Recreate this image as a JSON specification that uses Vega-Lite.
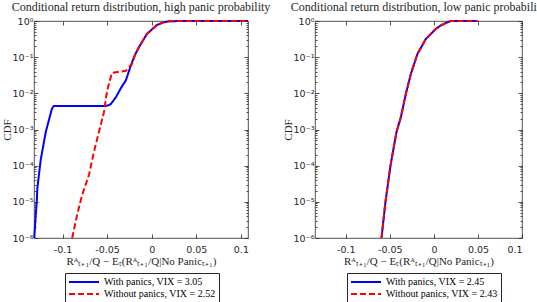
{
  "$schema": "https://vega.github.io/schema/vega-lite/v6.json",
  "padding": {"left": 0, "top": 0, "right": 0, "bottom": 0},
  "background": "white",
  "config": {
    "font": "Liberation Sans",
    "view": {"stroke": "#262626", "strokeWidth": 0.8},
    "axis": {"domain": false, "grid": false, "labelFont": "DejaVu Sans", "labelFontSize": 9.5, "labelColor": "#262626", "tickColor": "#262626", "tickSize": -4, "tickWidth": 0.8, "titleFont": "Liberation Serif", "titleFontSize": 11, "titleFontWeight": "normal", "titleColor": "#262626"},
    "axisY": {"values": [1e-6, 2e-6, 3e-6, 4e-6, 5e-6, 6e-6, 7e-6, 8e-6, 9e-6, 1e-5, 2e-5, 3e-5, 4e-5, 5e-5, 6e-5, 7e-5, 8e-5, 9e-5, 1e-4, 2e-4, 3e-4, 4e-4, 5e-4, 6e-4, 7e-4, 8e-4, 9e-4, 1e-3, 2e-3, 3e-3, 4e-3, 5e-3, 6e-3, 7e-3, 8e-3, 9e-3, 0.01, 0.02, 0.03, 0.04, 0.05, 0.06, 0.07, 0.08, 0.09, 0.1, 0.2, 0.3, 0.4, 0.5, 0.6, 0.7, 0.8, 0.9, 1], "labelOverlap": false, "tickSize": {"condition": {"test": "abs(log(datum.value)/LN10 - round(log(datum.value)/LN10)) < 0.001", "value": -4}, "value": -2}},
    "title": {"font": "Liberation Serif", "fontSize": 12, "fontWeight": "normal", "color": "#262626", "anchor": "middle", "frame": "group", "offset": 2},
    "legend": {"orient": "none", "direction": "vertical", "strokeColor": "#262626", "fillColor": "white", "padding": 3, "labelFont": "Liberation Serif", "labelFontSize": 10, "labelColor": "#000000", "symbolType": "M-1,0H5", "symbolSize": 100, "symbolStrokeWidth": 2, "rowPadding": 1, "labelOffset": 24},
    "line": {"strokeWidth": 2, "clip": true}
  },
  "datasets": {
    "left": [
      {"x": -0.1317, "y": 1e-6, "s": "With panics, VIX = 3.05"},
      {"x": -0.130, "y": 4.4e-6, "s": "With panics, VIX = 3.05"},
      {"x": -0.1289, "y": 1e-5, "s": "With panics, VIX = 3.05"},
      {"x": -0.1283, "y": 2.3e-5, "s": "With panics, VIX = 3.05"},
      {"x": -0.1244, "y": 1.5e-4, "s": "With panics, VIX = 3.05"},
      {"x": -0.1188, "y": 8.5e-4, "s": "With panics, VIX = 3.05"},
      {"x": -0.112, "y": 3.7e-3, "s": "With panics, VIX = 3.05"},
      {"x": -0.1098, "y": 4.5e-3, "s": "With panics, VIX = 3.05"},
      {"x": -0.0513, "y": 4.5e-3, "s": "With panics, VIX = 3.05"},
      {"x": -0.048, "y": 4.7e-3, "s": "With panics, VIX = 3.05"},
      {"x": -0.0457, "y": 5.1e-3, "s": "With panics, VIX = 3.05"},
      {"x": -0.040, "y": 7.9e-3, "s": "With panics, VIX = 3.05"},
      {"x": -0.0345, "y": 0.014, "s": "With panics, VIX = 3.05"},
      {"x": -0.0289, "y": 0.023, "s": "With panics, VIX = 3.05"},
      {"x": -0.0233, "y": 0.060, "s": "With panics, VIX = 3.05"},
      {"x": -0.0188, "y": 0.115, "s": "With panics, VIX = 3.05"},
      {"x": -0.0143, "y": 0.19, "s": "With panics, VIX = 3.05"},
      {"x": -0.0053, "y": 0.44, "s": "With panics, VIX = 3.05"},
      {"x": 0.006, "y": 0.78, "s": "With panics, VIX = 3.05"},
      {"x": 0.0127, "y": 0.91, "s": "With panics, VIX = 3.05"},
      {"x": 0.0194, "y": 0.98, "s": "With panics, VIX = 3.05"},
      {"x": 0.0307, "y": 1.0, "s": "With panics, VIX = 3.05"},
      {"x": 0.108, "y": 1.0, "s": "With panics, VIX = 3.05"},
      {"x": -0.0892, "y": 1e-6, "s": "Without panics, VIX = 2.52"},
      {"x": -0.0836, "y": 4.4e-6, "s": "Without panics, VIX = 2.52"},
      {"x": -0.078, "y": 1.55e-5, "s": "Without panics, VIX = 2.52"},
      {"x": -0.0704, "y": 5.5e-5, "s": "Without panics, VIX = 2.52"},
      {"x": -0.0648, "y": 2.4e-4, "s": "Without panics, VIX = 2.52"},
      {"x": -0.0592, "y": 8.5e-4, "s": "Without panics, VIX = 2.52"},
      {"x": -0.0536, "y": 3.0e-3, "s": "Without panics, VIX = 2.52"},
      {"x": -0.0502, "y": 0.011, "s": "Without panics, VIX = 2.52"},
      {"x": -0.048, "y": 0.018, "s": "Without panics, VIX = 2.52"},
      {"x": -0.0446, "y": 0.037, "s": "Without panics, VIX = 2.52"},
      {"x": -0.0289, "y": 0.042, "s": "Without panics, VIX = 2.52"},
      {"x": -0.022, "y": 0.066, "s": "Without panics, VIX = 2.52"},
      {"x": -0.0188, "y": 0.115, "s": "Without panics, VIX = 2.52"},
      {"x": -0.0143, "y": 0.19, "s": "Without panics, VIX = 2.52"},
      {"x": -0.0053, "y": 0.44, "s": "Without panics, VIX = 2.52"},
      {"x": 0.006, "y": 0.78, "s": "Without panics, VIX = 2.52"},
      {"x": 0.0127, "y": 0.91, "s": "Without panics, VIX = 2.52"},
      {"x": 0.0194, "y": 0.98, "s": "Without panics, VIX = 2.52"},
      {"x": 0.0307, "y": 1.0, "s": "Without panics, VIX = 2.52"},
      {"x": 0.108, "y": 1.0, "s": "Without panics, VIX = 2.52"}
    ],
    "right": [
      {"x": -0.0595, "y": 1e-6, "s": "With panics, VIX = 2.45"},
      {"x": -0.055, "y": 1e-5, "s": "With panics, VIX = 2.45"},
      {"x": -0.0493, "y": 1e-4, "s": "With panics, VIX = 2.45"},
      {"x": -0.0425, "y": 8.5e-4, "s": "With panics, VIX = 2.45"},
      {"x": -0.0375, "y": 2.2e-3, "s": "With panics, VIX = 2.45"},
      {"x": -0.0318, "y": 9.8e-3, "s": "With panics, VIX = 2.45"},
      {"x": -0.0261, "y": 0.035, "s": "With panics, VIX = 2.45"},
      {"x": -0.0186, "y": 0.124, "s": "With panics, VIX = 2.45"},
      {"x": -0.0091, "y": 0.32, "s": "With panics, VIX = 2.45"},
      {"x": 0.0023, "y": 0.61, "s": "With panics, VIX = 2.45"},
      {"x": 0.008, "y": 0.76, "s": "With panics, VIX = 2.45"},
      {"x": 0.0136, "y": 0.88, "s": "With panics, VIX = 2.45"},
      {"x": 0.0193, "y": 1.0, "s": "With panics, VIX = 2.45"},
      {"x": 0.0495, "y": 1.0, "s": "With panics, VIX = 2.45"},
      {"x": -0.0595, "y": 1e-6, "s": "Without panics, VIX = 2.43"},
      {"x": -0.055, "y": 1e-5, "s": "Without panics, VIX = 2.43"},
      {"x": -0.0493, "y": 1e-4, "s": "Without panics, VIX = 2.43"},
      {"x": -0.0425, "y": 8.5e-4, "s": "Without panics, VIX = 2.43"},
      {"x": -0.0375, "y": 2.2e-3, "s": "Without panics, VIX = 2.43"},
      {"x": -0.0318, "y": 9.8e-3, "s": "Without panics, VIX = 2.43"},
      {"x": -0.0261, "y": 0.035, "s": "Without panics, VIX = 2.43"},
      {"x": -0.0186, "y": 0.124, "s": "Without panics, VIX = 2.43"},
      {"x": -0.0091, "y": 0.32, "s": "Without panics, VIX = 2.43"},
      {"x": 0.0023, "y": 0.61, "s": "Without panics, VIX = 2.43"},
      {"x": 0.008, "y": 0.76, "s": "Without panics, VIX = 2.43"},
      {"x": 0.0136, "y": 0.88, "s": "Without panics, VIX = 2.43"},
      {"x": 0.0193, "y": 1.0, "s": "Without panics, VIX = 2.43"},
      {"x": 0.0495, "y": 1.0, "s": "Without panics, VIX = 2.43"}
    ]
  },
  "hconcat": [
    {
      "width": 214,
      "height": 217,
      "title": "Conditional return distribution, high panic probability",
      "data": {"name": "left"},
      "layer": [
        {
          "transform": [{"filter": "datum.s == 'With panics, VIX = 3.05'"}],
          "mark": "line",
          "encoding": {
            "x": {"field": "x", "type": "quantitative", "scale": {"domain": [-0.132, 0.108], "nice": false, "zero": false}, "axis": {"orient": "bottom", "values": [-0.1, -0.05, 0, 0.05, 0.1], "labelExpr": "'' + datum.value", "title": "Rᴬₜ₊₁/Q − Eₜ(Rᴬₜ₊₁/Q|No Panicₜ₊₁)", "titlePadding": 2, "labelPadding": 10}},
            "y": {"field": "y", "type": "quantitative", "scale": {"type": "log", "domain": [1e-6, 1], "nice": false}, "axis": {"orient": "left", "labelExpr": "abs(log(datum.value)/LN10 - round(log(datum.value)/LN10)) < 0.001 ? '10' + ['⁻⁶','⁻⁵','⁻⁴','⁻³','⁻²','⁻¹','⁰'][round(log(datum.value)/LN10)+6] : ''", "title": "CDF", "titlePadding": 0, "labelPadding": 5}},
            "color": {"field": "s", "type": "nominal", "scale": {"domain": ["With panics, VIX = 3.05", "Without panics, VIX = 2.52"], "range": ["#0000ff", "#ff0000"]}, "legend": {"title": null, "orient": "none", "legendX": 31, "legendY": 252}},
            "strokeDash": {"field": "s", "type": "nominal", "scale": {"domain": ["With panics, VIX = 3.05", "Without panics, VIX = 2.52"], "range": [[1, 0], [6, 3]]}, "legend": {"title": null, "orient": "none", "legendX": 31, "legendY": 252}}
          }
        },
        {
          "transform": [{"filter": "datum.s == 'Without panics, VIX = 2.52'"}],
          "mark": "line",
          "encoding": {
            "x": {"field": "x", "type": "quantitative", "scale": {"domain": [-0.132, 0.108], "nice": false, "zero": false}, "axis": {"orient": "top", "values": [-0.1, -0.05, 0, 0.05, 0.1], "labels": false, "title": null}},
            "y": {"field": "y", "type": "quantitative", "scale": {"type": "log", "domain": [1e-6, 1], "nice": false}, "axis": {"orient": "right", "labels": false, "title": null}},
            "color": {"field": "s", "type": "nominal", "scale": {"domain": ["With panics, VIX = 3.05", "Without panics, VIX = 2.52"], "range": ["#0000ff", "#ff0000"]}, "legend": {"title": null, "orient": "none", "legendX": 31, "legendY": 252}},
            "strokeDash": {"field": "s", "type": "nominal", "scale": {"domain": ["With panics, VIX = 3.05", "Without panics, VIX = 2.52"], "range": [[1, 0], [6, 3]]}, "legend": {"title": null, "orient": "none", "legendX": 31, "legendY": 252}}
          }
        }
      ],
      "resolve": {"axis": {"x": "independent", "y": "independent"}}
    },
    {
      "width": 207,
      "height": 217,
      "title": "Conditional return distribution, low panic probability",
      "data": {"name": "right"},
      "layer": [
        {
          "transform": [{"filter": "datum.s == 'With panics, VIX = 2.45'"}],
          "mark": "line",
          "encoding": {
            "x": {"field": "x", "type": "quantitative", "scale": {"domain": [-0.135, 0.1], "nice": false, "zero": false}, "axis": {"orient": "bottom", "values": [-0.1, -0.05, 0, 0.05, 0.1], "labelExpr": "'' + datum.value", "title": "Rᴬₜ₊₁/Q − Eₜ(Rᴬₜ₊₁/Q|No Panicₜ₊₁)", "titlePadding": 2, "labelPadding": 10}},
            "y": {"field": "y", "type": "quantitative", "scale": {"type": "log", "domain": [1e-6, 1], "nice": false}, "axis": {"orient": "left", "labelExpr": "abs(log(datum.value)/LN10 - round(log(datum.value)/LN10)) < 0.001 ? '10' + ['⁻⁶','⁻⁵','⁻⁴','⁻³','⁻²','⁻¹','⁰'][round(log(datum.value)/LN10)+6] : ''", "title": "CDF", "titlePadding": 0, "labelPadding": 5}},
            "color": {"field": "s", "type": "nominal", "scale": {"domain": ["With panics, VIX = 2.45", "Without panics, VIX = 2.43"], "range": ["#0000ff", "#ff0000"]}, "legend": {"title": null, "orient": "none", "legendX": 32, "legendY": 252}},
            "strokeDash": {"field": "s", "type": "nominal", "scale": {"domain": ["With panics, VIX = 2.45", "Without panics, VIX = 2.43"], "range": [[1, 0], [6, 3]]}, "legend": {"title": null, "orient": "none", "legendX": 32, "legendY": 252}}
          }
        },
        {
          "transform": [{"filter": "datum.s == 'Without panics, VIX = 2.43'"}],
          "mark": "line",
          "encoding": {
            "x": {"field": "x", "type": "quantitative", "scale": {"domain": [-0.135, 0.1], "nice": false, "zero": false}, "axis": {"orient": "top", "values": [-0.1, -0.05, 0, 0.05, 0.1], "labels": false, "title": null}},
            "y": {"field": "y", "type": "quantitative", "scale": {"type": "log", "domain": [1e-6, 1], "nice": false}, "axis": {"orient": "right", "labels": false, "title": null}},
            "color": {"field": "s", "type": "nominal", "scale": {"domain": ["With panics, VIX = 2.45", "Without panics, VIX = 2.43"], "range": ["#0000ff", "#ff0000"]}, "legend": {"title": null, "orient": "none", "legendX": 32, "legendY": 252}},
            "strokeDash": {"field": "s", "type": "nominal", "scale": {"domain": ["With panics, VIX = 2.45", "Without panics, VIX = 2.43"], "range": [[1, 0], [6, 3]]}, "legend": {"title": null, "orient": "none", "legendX": 32, "legendY": 252}}
          }
        }
      ],
      "resolve": {"axis": {"x": "independent", "y": "independent"}}
    }
  ],
  "spacing": 67,
  "bounds": "flush",
  "resolve": {"scale": {"color": "independent", "strokeDash": "independent", "x": "independent", "y": "independent"}, "legend": {"color": "independent", "strokeDash": "independent"}}
}
